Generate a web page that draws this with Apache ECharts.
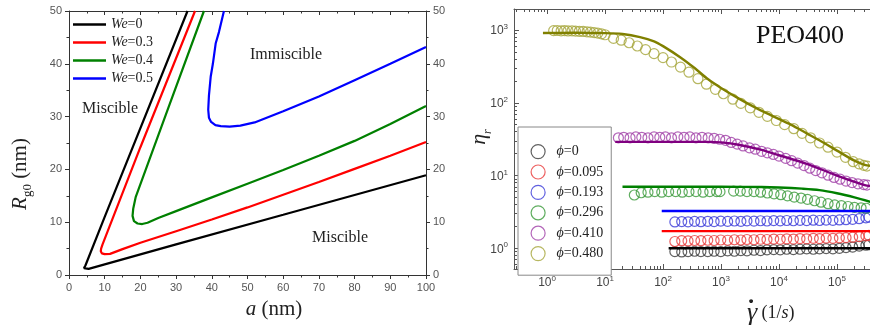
<!DOCTYPE html>
<html>
<head>
<meta charset="utf-8">
<title>Miscibility map and relative viscosity</title>
<script src="https://cdn.jsdelivr.net/npm/echarts@6/dist/echarts.min.js"></script>
<style>
  html, body { margin: 0; padding: 0; background: #fff; }
  #chart { width: 870px; height: 325px; }
</style>
</head>
<body>
<div id="chart"></div>
<script>
// left panel: boundary curves, [a (nm), Rg0 (nm)]
const weNames = ['We=0', 'We=0.3', 'We=0.4', 'We=0.5'];
const weColors = ['#000000', '#ff0000', '#008000', '#0000ff'];
const we0 = [[33.2, 50], [10, 11], [4.6, 1.8], [4.2, 1.3], [4.6, 1.05], [5.5, 1.15], [30, 5.8], [60, 11.4], [100, 18.9]];
const we03 = [[35.3, 50], [20, 24.2], [9.4, 5.8], [9.0, 5.0], [8.9, 4.5], [9.2, 4.1], [10, 3.95], [11.5, 4.0], [15, 4.9], [20, 6.1], [30, 8.3], [40, 10.5], [50, 12.8], [60, 15.2], [70, 17.6], [80, 20.1], [90, 22.6], [100, 25.2]];
const we04 = [[37.8, 50], [28, 32], [18.7, 14.8], [18.0, 12.6], [17.8, 11.2], [18.2, 10.2], [19.2, 9.75], [20.5, 9.65], [22, 9.9], [25, 10.8], [30, 12.1], [40, 14.7], [50, 17.3], [60, 19.9], [70, 22.6], [80, 25.4], [90, 28.6], [100, 32]];
const we05 = [[43.4, 50], [42, 46], [41.1, 43.9], [40.3, 40], [39.7, 37.6], [39.2, 34], [39.0, 31.3], [39.2, 29.8], [39.8, 29.0], [41, 28.4], [42.5, 28.2], [45, 28.1], [48, 28.3], [52, 28.9], [60, 31.0], [70, 33.8], [80, 36.9], [90, 40], [100, 43.2]];

// right panel: measured relative viscosity (circles) and model (lines)
const phiNames = ['ϕ=0', 'ϕ=0.095', 'ϕ=0.193', 'ϕ=0.296', 'ϕ=0.410', 'ϕ=0.480'];
const dotColors = ['#3a3a3a', '#e83a3a', '#3a3ad8', '#3a9a3a', '#a040a8', '#a5a53a'];
const fitColors = ['#000000', '#ff0000', '#0000ff', '#008000', '#800080', '#808000'];

const rateLow = [160, 210, 270, 350, 450, 590, 760, 990, 1300, 1700, 2200, 2800, 3700, 4800, 6200, 8100, 10500, 13600, 17700, 23000, 30000, 39000, 50000, 65000, 85000, 110000, 143000, 186000, 242000, 315000, 355000];
const etaP0 = [0.9, 0.89, 0.9, 0.91, 0.9, 0.9, 0.91, 0.9, 0.92, 0.91, 0.93, 0.92, 0.94, 0.93, 0.95, 0.96, 0.95, 0.97, 0.96, 0.97, 0.98, 0.97, 0.98, 0.99, 0.98, 1.0, 1.02, 1.04, 1.07, 1.1, 1.12];
const etaP095 = [1.24, 1.27, 1.26, 1.28, 1.27, 1.29, 1.28, 1.3, 1.29, 1.31, 1.3, 1.32, 1.31, 1.33, 1.32, 1.34, 1.33, 1.35, 1.34, 1.36, 1.35, 1.37, 1.36, 1.38, 1.37, 1.39, 1.4, 1.42, 1.45, 1.48, 1.5];
const etaP193 = [2.3, 2.33, 2.31, 2.34, 2.32, 2.35, 2.33, 2.36, 2.34, 2.37, 2.35, 2.38, 2.36, 2.39, 2.37, 2.4, 2.38, 2.41, 2.39, 2.42, 2.4, 2.43, 2.41, 2.44, 2.42, 2.45, 2.47, 2.5, 2.55, 2.62, 2.68];

const rateP296 = [32, 42, 55, 72, 95, 125, 165, 215, 280, 370, 490, 640, 840, 960, 1650, 2150, 2800, 3700, 4800, 6300, 8200, 10700, 14000, 18300, 24000, 31000, 41000, 53000, 70000, 91000, 119000, 155000, 200000, 260000, 320000];
const etaP296 = [5.4, 5.8, 5.9, 6.0, 5.9, 6.0, 6.0, 5.9, 6.0, 6.0, 5.9, 6.0, 6.0, 6.0, 6.1, 6.1, 6.0, 6.0, 5.9, 5.75, 5.6, 5.45, 5.25, 5.05, 4.9, 4.7, 4.5, 4.3, 4.1, 3.95, 3.85, 3.75, 3.65, 3.6, 3.55];

const rateP410 = [17, 21, 27, 34, 43, 55, 70, 88, 110, 140, 180, 230, 290, 370, 470, 600, 760, 950, 1200, 1500, 1900, 2400, 3100, 3900, 5000, 6300, 8000, 10000, 13000, 16500, 21000, 27000, 34000, 43000, 55000, 70000, 89000, 113000, 143000, 182000, 230000, 290000, 330000];
const etaP410 = [33, 33.5, 33, 34, 33.5, 33, 34, 33.5, 34, 33, 34, 33.5, 34, 33, 33.5, 33, 32.5, 31.5, 30.5, 28.5, 27, 25.5, 24, 23, 21.5, 20.5, 19.5, 18.5, 17.2, 16, 14.8, 13.7, 12.6, 11.7, 10.9, 10.1, 9.4, 8.9, 8.4, 8.0, 7.7, 7.5, 7.4];

const rateP480 = [1.3, 1.5, 1.75, 2.0, 2.3, 2.7, 3.1, 3.6, 4.2, 4.9, 5.6, 6.5, 7.5, 8.7, 10, 14, 19, 26, 36, 50, 70, 100, 140, 200, 280, 400, 560, 800, 1100, 1600, 2200, 3200, 4500, 6300, 9000, 12500, 18000, 25000, 35000, 50000, 70000, 100000, 140000, 190000, 240000, 290000, 330000];
const etaP480 = [980, 985, 975, 980, 970, 975, 965, 960, 955, 945, 935, 920, 905, 885, 860, 767, 724, 668, 603, 537, 473, 417, 363, 309, 263, 214, 180, 153, 133, 112, 98, 85, 74, 65, 57, 50, 44, 38, 33, 28, 24.5, 21, 17.8, 15.5, 14.5, 13.8, 13.5];

const fitRateP0 = [125, 400000];
const fitEtaP0 = [1.0, 1.0];
const fitRateP095 = [95, 400000];
const fitEtaP095 = [1.72, 1.72];
const fitRateP193 = [95, 400000];
const fitEtaP193 = [3.25, 3.25];
const fitRateP296 = [20, 100, 1000, 5000, 10000, 25000, 50000, 100000, 200000, 400000];
const fitEtaP296 = [7.0, 7.0, 7.0, 6.95, 6.85, 6.6, 6.3, 5.7, 5.0, 4.3];
const fitRateP410 = [15, 100, 600, 1000, 2000, 5000, 10000, 30000, 100000, 300000, 400000];
const fitEtaP410 = [29, 29, 29, 28.5, 26.5, 22.5, 19, 14.5, 10, 7.4, 7.1];
const fitRateP480 = [0.85, 3, 10, 20, 40, 70, 100, 200, 350, 600, 1000, 2000, 4000, 8000, 16000, 30000, 60000, 100000, 200000, 300000, 400000];
const fitEtaP480 = [910, 915, 905, 880, 800, 700, 600, 420, 300, 210, 160, 115, 85, 65, 50, 38, 28, 22, 16, 14, 13.5];

// log axis ticks
const majorX = [1, 10, 100, 1000, 10000, 100000, 1000000];
const majorY = [1, 10, 100, 1000];
const minorSteps = [2, 3, 4, 5, 6, 7, 8, 9];
const decadesX = [0.1, 1, 10, 100, 1000, 10000, 100000];
const decadesY = [0.1, 1, 10, 100, 1000];

function minorOf(decades) {
  const out = [];
  decades.forEach(d => minorSteps.forEach(m => out.push(d * m)));
  return out;
}
function pairs(xs, ys) {
  return xs.map((x, i) => [x, ys[i]]);
}

const serif = 'Liberation Serif';
const sans = 'Liberation Sans';
const supLabel = {
  formatter: v => '{b|10}{s|' + Math.round(Math.log10(v)) + '}',
  rich: {
    b: { fontSize: 12, fontFamily: sans, color: '#444', verticalAlign: 'bottom' },
    s: { fontSize: 8, fontFamily: sans, color: '#444', verticalAlign: 'bottom', padding: [0, 0, 6, 0] }
  }
};

function linAxis(grid, pos, min, max, showLabel, inside) {
  return {
    gridIndex: grid, type: 'value', position: pos, min: min, max: max, interval: 10,
    axisLine: { show: true, onZero: false, lineStyle: { color: '#333', width: 1 } },
    axisTick: { show: true, inside: inside, length: 4, lineStyle: { color: '#333' } },
    minorTick: { show: true, splitNumber: 2, length: 2.5, lineStyle: { color: '#333' } },
    axisLabel: { show: showLabel, fontSize: 11, fontFamily: sans, color: '#555', margin: 7 },
    splitLine: { show: false }
  };
}
function logAxis(grid, pos, min, max, ticks, len, withLine, label) {
  return {
    gridIndex: grid, type: 'log', logBase: 10, position: pos, min: min, max: max,
    axisLine: { show: withLine, onZero: false, lineStyle: { color: '#555', width: 1 } },
    axisTick: { show: true, inside: true, length: len, customValues: ticks, lineStyle: { color: '#555' } },
    axisLabel: label ? Object.assign({ show: true, margin: 6, customValues: ticks.filter(t => t < 1e6) }, supLabel) : { show: false },
    splitLine: { show: false },
    minorTick: { show: false }
  };
}

const xMin = 0.2693, xMax = 1e6;
const yMin = 0.519, yMax = 1944;

const leftSeries = [we0, we03, we04, we05].map((d, i) => ({
  name: weNames[i], type: 'line', xAxisIndex: 0, yAxisIndex: 0,
  data: d, symbol: 'none', smooth: false,
  lineStyle: { color: weColors[i], width: 2.2 },
  itemStyle: { color: weColors[i] }
}));

const dotData = [pairs(rateLow, etaP0), pairs(rateLow, etaP095), pairs(rateLow, etaP193),
  pairs(rateP296, etaP296), pairs(rateP410, etaP410), pairs(rateP480, etaP480)];
const fitData = [pairs(fitRateP0, fitEtaP0), pairs(fitRateP095, fitEtaP095), pairs(fitRateP193, fitEtaP193),
  pairs(fitRateP296, fitEtaP296), pairs(fitRateP410, fitEtaP410), pairs(fitRateP480, fitEtaP480)];

const dotSeries = dotData.map((d, i) => ({
  name: phiNames[i], type: 'scatter', xAxisIndex: 2, yAxisIndex: 2,
  data: d, symbol: 'circle', symbolSize: 10,
  itemStyle: { color: 'rgba(255,255,255,0)', borderColor: dotColors[i], borderWidth: 1.2 }
}));
const fitSeries = fitData.map((d, i) => ({
  name: 'fit ' + phiNames[i], type: 'line', xAxisIndex: 2, yAxisIndex: 2,
  data: d, symbol: 'none', smooth: 0.3,
  lineStyle: { color: fitColors[i], width: 2.4 }, z: 3
}));

const chart = echarts.init(document.getElementById('chart'));
chart.setOption({
  animation: false,
  backgroundColor: '#fff',
  grid: [
    { left: 69, top: 11, width: 357, height: 264, outerBoundsMode: 'none' },
    { left: 514, top: 9, width: 381, height: 260, outerBoundsMode: 'none' }
  ],
  xAxis: [
    linAxis(0, 'bottom', 0, 100, true, false),
    linAxis(0, 'top', 0, 100, false, true),
    logAxis(1, 'bottom', xMin, xMax, majorX, 5, true, true),
    logAxis(1, 'bottom', xMin, xMax, minorOf(decadesX), 3, false, false),
    logAxis(1, 'top', xMin, xMax, majorX, 5, true, false),
    logAxis(1, 'top', xMin, xMax, minorOf(decadesX), 3, false, false)
  ],
  yAxis: [
    linAxis(0, 'left', 0, 50, true, false),
    linAxis(0, 'right', 0, 50, true, false),
    logAxis(1, 'left', yMin, yMax, majorY, 5, true, true),
    logAxis(1, 'left', yMin, yMax, minorOf(decadesY), 3, false, false)
  ],
  legend: [
    {
      left: 73, top: 15.5, orient: 'vertical', padding: 0,
      icon: 'rect', itemWidth: 33, itemHeight: 2.6, itemGap: 0, selectedMode: false,
      data: weNames,
      formatter: n => '{i|We}' + n.slice(2),
      textStyle: {
        fontFamily: serif, fontSize: 14, color: '#222', lineHeight: 18,
        rich: { i: { fontFamily: serif, fontSize: 14, fontStyle: 'italic', color: '#222', lineHeight: 18 } }
      }
    },
    {
      left: 518, top: 127, orient: 'vertical', padding: [17, 8, 14, 12.5],
      itemWidth: 27, itemHeight: 14, itemGap: 5.2, selectedMode: false,
      backgroundColor: '#fff', borderColor: '#888', borderWidth: 1,
      itemStyle: { borderWidth: 1.2 },
      data: phiNames,
      formatter: n => '{i|ϕ}' + n.slice(1),
      textStyle: {
        fontFamily: serif, fontSize: 14, color: '#222', lineHeight: 14,
        rich: { i: { fontFamily: serif, fontSize: 14, fontStyle: 'italic', color: '#222' } }
      }
    }
  ],
  graphic: [
    { type: 'text', x: 286, y: 55, style: { text: 'Immiscible', font: '16px "Liberation Serif"', fill: '#222', align: 'center', verticalAlign: 'middle' } },
    { type: 'text', x: 110, y: 109, style: { text: 'Miscible', font: '16px "Liberation Serif"', fill: '#222', align: 'center', verticalAlign: 'middle' } },
    { type: 'text', x: 340, y: 238, style: { text: 'Miscible', font: '16px "Liberation Serif"', fill: '#222', align: 'center', verticalAlign: 'middle' } },
    { type: 'text', x: 800, y: 36, style: { text: 'PEO400', font: '26px "Liberation Serif"', fill: '#111', align: 'center', verticalAlign: 'middle' } },
    {
      type: 'text', x: 22, y: 174, rotation: Math.PI / 2,
      style: {
        text: '{i|R}{s|g0}{n| (nm)}', align: 'center', verticalAlign: 'middle', fill: '#222',
        rich: {
          i: { fontFamily: serif, fontSize: 21, fontStyle: 'italic', verticalAlign: 'top' },
          s: { fontFamily: serif, fontSize: 13, verticalAlign: 'top', padding: [12, 0, 0, 0] },
          n: { fontFamily: serif, fontSize: 21, verticalAlign: 'top' }
        }
      }
    },
    {
      type: 'text', x: 274, y: 309,
      style: {
        text: '{i|a}{n| (nm)}', align: 'center', verticalAlign: 'middle', fill: '#222',
        rich: {
          i: { fontFamily: serif, fontSize: 21, fontStyle: 'italic' },
          n: { fontFamily: serif, fontSize: 21 }
        }
      }
    },
    {
      type: 'text', x: 481, y: 137, rotation: Math.PI / 2,
      style: {
        text: '{i|η}{s|r}', align: 'center', verticalAlign: 'middle', fill: '#222',
        rich: {
          i: { fontFamily: serif, fontSize: 22, fontStyle: 'italic', verticalAlign: 'top' },
          s: { fontFamily: serif, fontSize: 12, fontStyle: 'italic', verticalAlign: 'top', padding: [13, 0, 0, 0] }
        }
      }
    },
    { type: 'text', x: 752, y: 313, style: { text: 'γ', font: 'italic 26px "Liberation Serif"', fill: '#222', align: 'center', verticalAlign: 'middle' } },
    { type: 'text', x: 751, y: 310, style: { text: '˙', font: 'bold 26px "Liberation Serif"', fill: '#222', align: 'center', verticalAlign: 'middle' } },
    {
      type: 'text', x: 778, y: 313,
      style: {
        text: '{n|(1/}{i|s}{n|)}', align: 'center', verticalAlign: 'middle', fill: '#222',
        rich: {
          n: { fontFamily: serif, fontSize: 18 },
          i: { fontFamily: serif, fontSize: 18, fontStyle: 'italic' }
        }
      }
    }
  ],
  series: leftSeries.concat(dotSeries, fitSeries)
});
</script>
</body>
</html>
